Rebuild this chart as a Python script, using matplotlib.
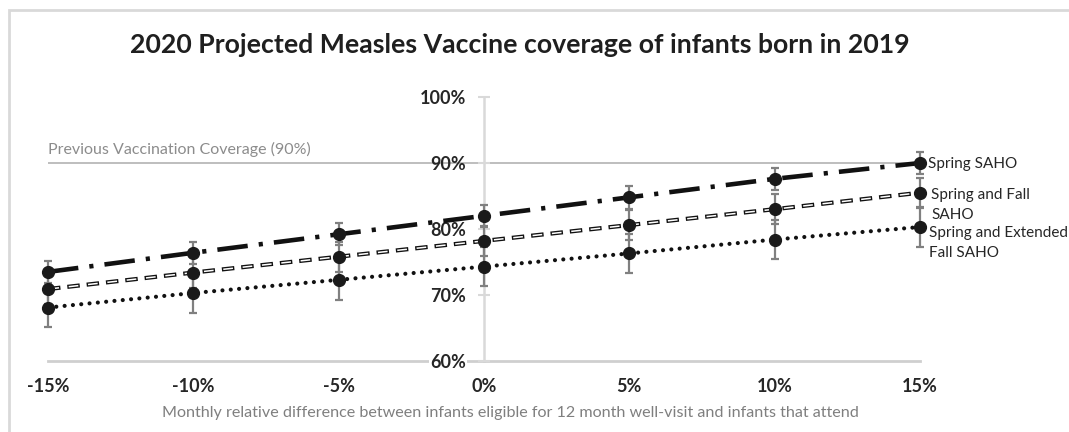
import matplotlib
matplotlib.use("Agg")
import matplotlib.pyplot as plt
from matplotlib.patches import Rectangle

plt.rcParams['font.family'] = ['Lato', 'DejaVu Sans']
plt.rcParams['lines.scale_dashes'] = False

# Monthly relative difference (%) and projected coverage (%) per scenario
diff_pct = [-15, -10, -5, 0, 5, 10, 15]
spring_saho = [73.5, 76.4, 79.2, 82.0, 84.8, 87.6, 90.0]
spring_fall_saho = [70.9, 73.4, 75.8, 78.2, 80.6, 83.0, 85.5]
spring_ext_fall_saho = [68.1, 70.3, 72.3, 74.3, 76.3, 78.4, 80.3]
spring_saho_err = [1.7] * 7
spring_fall_err = [2.3] * 7
spring_ext_err = [3.0] * 7
previous_coverage = 90
y_ticks = [60, 70, 80, 90, 100]

W, H = 1069, 432
fig = plt.figure(figsize=(W / 100, H / 100), dpi=100)

def fx(x):
    return x / W

def fy(y):
    return 1 - y / H

ax = fig.add_axes([fx(48), fy(361), fx(920) - fx(48), (361 - 97) / H])
ax.set_xlim(-15, 15)
ax.set_ylim(60, 100)

# chart frame (extends past the canvas on the right and bottom)
fig.patches.append(Rectangle((fx(9), -0.1), 1.2, fy(10) + 0.1,
                             transform=fig.transFigure, fill=False,
                             edgecolor='#d9d9d9', linewidth=2))

for s in ['top', 'right']:
    ax.spines[s].set_visible(False)
ax.spines['left'].set_position(('data', 0))
ax.spines['left'].set_color('#d9d9d9')
ax.spines['left'].set_linewidth(1.8)
ax.spines['bottom'].set_color('#cfcfcf')
ax.spines['bottom'].set_linewidth(2)
ax.spines['left'].set_zorder(0)
ax.spines['bottom'].set_zorder(0.5)
ax.yaxis.set_zorder(1)

ax.set_yticks(y_ticks)
ax.set_yticklabels([f"{v}%" for v in y_ticks])
ax.tick_params(axis='y', direction='inout', length=8, width=1.5,
               color='#d9d9d9', pad=9, labelsize=13, labelcolor='#262626')
for lab in ax.get_yticklabels():
    lab.set_fontweight('bold')
ax.get_yticklabels()[0].set_bbox(dict(facecolor='white', edgecolor='none', pad=1))

ax.set_xticks(diff_pct)
ax.set_xticklabels([f"{v}%" for v in diff_pct])
ax.tick_params(axis='x', length=0, pad=12, labelsize=13, labelcolor='#262626')
for lab in ax.get_xticklabels():
    lab.set_fontweight('bold')

# previous coverage reference
ax.plot([diff_pct[0], diff_pct[-1]], [previous_coverage] * 2,
        color='#b3b3b3', linewidth=1.2, zorder=1)
ax.text(diff_pct[0], previous_coverage + 0.9, "Previous Vaccination Coverage (90%)",
        color='#8c8c8c', fontsize=11.5, ha='left', va='bottom')

err_kw = dict(fmt='none', ecolor='#808080', elinewidth=1.6, capsize=3.2,
              capthick=1.6, zorder=3, clip_on=False)
ax.errorbar(diff_pct, spring_saho, yerr=spring_saho_err, **err_kw)
ax.errorbar(diff_pct, spring_fall_saho, yerr=spring_fall_err, **err_kw)
ax.errorbar(diff_pct, spring_ext_fall_saho, yerr=spring_ext_err, **err_kw)

# Spring SAHO: long dash-dot
ax.plot(diff_pct, spring_saho, color='#111111', linewidth=3.3,
        linestyle=(0, (22, 8, 3, 8)), dash_capstyle='butt', zorder=4, clip_on=False)
# Spring and Fall SAHO: hollow dashes
ax.plot(diff_pct, spring_fall_saho, color='#111111', linewidth=3.0,
        linestyle=(0, (9, 5)), dash_capstyle='butt', zorder=4, clip_on=False)
ax.plot(diff_pct, spring_fall_saho, color='white', linewidth=1.1,
        linestyle=(13, (7, 7)), dash_capstyle='butt', zorder=4, clip_on=False)
# Spring and Extended Fall SAHO: round dots
ax.plot(diff_pct, spring_ext_fall_saho, color='#111111', linewidth=3.0,
        linestyle=(0, (0.01, 6)), dash_capstyle='round', zorder=4, clip_on=False)

for vals in (spring_saho, spring_fall_saho, spring_ext_fall_saho):
    ax.plot(diff_pct, vals, linestyle='none', marker='o', markersize=8.5,
            color='#1a1a1a', zorder=5, clip_on=False)

lab_kw = dict(textcoords='offset points', fontsize=11, color='#262626',
              ha='left', va='center', linespacing=1.55)
ax.annotate("Spring SAHO", (diff_pct[-1], spring_saho[-1]),
            xytext=(6, -0.8), **lab_kw)
ax.annotate("Spring and Fall\nSAHO", (diff_pct[-1], spring_fall_saho[-1]),
            xytext=(8, -8.6), **lab_kw)
ax.annotate("Spring and Extended\nFall SAHO", (diff_pct[-1], spring_ext_fall_saho[-1]),
            xytext=(6.5, -11.2), **lab_kw)

fig.text(fx(520), fy(45), "2020 Projected Measles Vaccine coverage of infants born in 2019",
         ha='center', va='center', fontsize=19.2, fontweight='bold', color='#1f1f1f')
fig.text(fx(510), fy(413),
         "Monthly relative difference between infants eligible for 12 month well-visit and infants that attend",
         ha='center', va='center', fontsize=11.6, color='#7f7f7f')

fig.savefig("out.png", dpi=100)
